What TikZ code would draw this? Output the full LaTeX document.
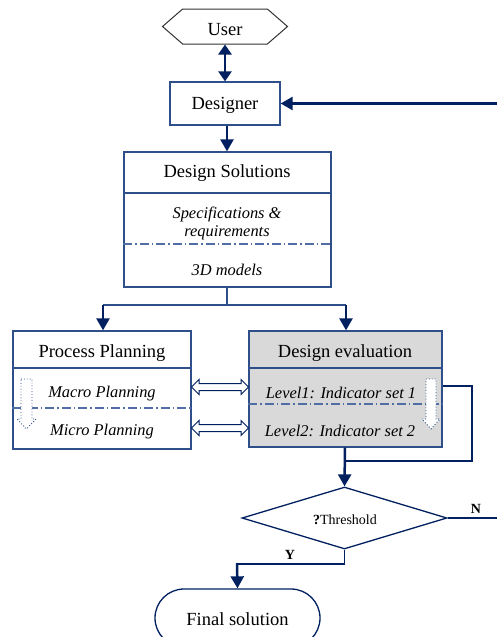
\documentclass[tikz,border=0pt]{standalone}
\usepackage{fontspec}
\setmainfont{Liberation Serif}
\usetikzlibrary{shapes.geometric,shapes.symbols,shapes.misc,shapes.arrows,arrows.meta,calc}
\definecolor{navy}{RGB}{0,32,96}
\definecolor{boxblue}{RGB}{47,79,139}
\definecolor{dashblue}{RGB}{80,110,165}
\definecolor{evalgray}{RGB}{217,217,217}
\begin{document}
\begin{tikzpicture}[x=1pt,y=-1pt,
  box/.style={draw=boxblue,line width=1.3pt,rectangle,inner sep=0pt},
  head/.style={font=\fontsize{18.5}{22}\selectfont,inner sep=0pt},
  itxt/.style={font=\fontsize{16.4}{19}\selectfont\itshape,inner sep=0pt},
  small/.style={font=\fontsize{14}{16}\selectfont,inner sep=0pt},
  thickarr/.style={draw=navy,line width=2.5pt,-{Triangle[width=13pt,length=12pt]}},
  thinline/.style={draw=boxblue,line width=1.4pt},
  divline/.style={draw=boxblue,line width=1.3pt},
  dashdotline/.style={draw=dashblue,line width=1.3pt,dash pattern=on 9pt off 3pt on 1.5pt off 3pt},
  hollowdot/.style={draw=boxblue,line width=0.9pt,dotted,fill=white},
  dblarr/.style={shape=double arrow,draw=navy,line width=1pt,fill=white,inner sep=3pt,
     double arrow head extend=4pt,minimum height=57pt}
]
\useasboundingbox (0,0) rectangle (497,637);

% User
\node (user) [signal,signal to=east and west,signal pointer angle=82,draw=black!80,line width=1pt,
  minimum width=125pt,minimum height=35pt,inner sep=0pt] at (225,26.5) {};
\node (usert) [head] at (225,29.5) {User};

% Designer
\node (des) [box,minimum width=110pt,minimum height=43pt] at (225,103.5) {};
\node (dest) [head] at (225,105.5) {Designer};

% Design Solutions
\node (ds) [box,minimum width=207pt,minimum height=135pt] at (227.5,219.5) {};
\draw[divline] (ds.west |- 0,193) -- (ds.east |- 0,193);
\draw[dashdotline] (ds.west |- 0,244) -- (ds.east |- 0,244);
\node (dst) [head] at (227,173.5) {Design Solutions};
\node (ds1) [itxt] at (227,214.5) {Specifications \&};
\node (ds2) [itxt] at (227,232.5) {requirements};
\node (ds3) [itxt] at (227,269.5) {3D models};

% Process Planning
\node (pp) [box,minimum width=178pt,minimum height=118pt] at (102,390) {};
\draw[divline] (pp.west |- 0,368) -- (pp.east |- 0,368);
\draw[dashdotline] (pp.west |- 0,408) -- (pp.east |- 0,408);
\node (ppt) [head] at (102,353.5) {Process Planning};
\node (pp1) [itxt] at (102,393.5) {Macro Planning};
\node (pp2) [itxt] at (102,431.5) {Micro Planning};
\draw[hollowdot] (21,379) -- (32,379) -- (32,419) -- (36,419) -- (26.5,429) -- (17,419) -- (21,419) -- cycle;

% Design evaluation
\node (de) [box,fill=evalgray,minimum width=193pt,minimum height=116pt] at (345.5,389) {};
\draw[divline] (de.west |- 0,368) -- (de.east |- 0,368);
\draw[dashdotline] (de.west |- 0,404) -- (de.east |- 0,404);
\node (det) [head] at (345,353.5) {Design evaluation};
\node (de1) [itxt] at (341,392.5) {Level1: Indicator set 1};
\node (de2) [itxt] at (340,430.5) {Level2: Indicator set 2};
\draw[hollowdot] (426,379) -- (436,379) -- (436,419) -- (440,419) -- (431,429) -- (422,419) -- (426,419) -- cycle;

% Decision
\node (dec) [diamond,draw=navy,line width=1.3pt,minimum width=205pt,minimum height=62pt,inner sep=0pt] at (344.5,518) {};
\node (dect) [small] at (345,519.5) {\textbf{?}Threshold};

% Final solution
\node (fin) [rounded rectangle,draw=navy,line width=1.3pt,minimum width=165pt,minimum height=58pt,inner sep=0pt] at (237.5,618) {};
\node (fint) [head] at (237.5,619) {Final solution};

% Labels
\node (nlab) [small,font=\fontsize{14}{16}\selectfont\bfseries] at (476,509) {N};
\node (ylab) [small,font=\fontsize{14}{16}\selectfont\bfseries] at (290,555) {Y};

% Coordinates
\coordinate (fbin) at (497,103.5);
\coordinate (nout) at (497,518);
\coordinate (split) at (227,305);
\coordinate (join) at (345,461);

% Connectors
\draw[draw=navy,line width=2.5pt,{Triangle[width=13pt,length=10pt]}-{Triangle[width=13pt,length=10pt]}] (user.south) -- (des.north);
\draw[thickarr] (fbin) -- (des.east);
\draw[thickarr] (des.south -| 227,0) -- (ds.north -| 227,0);
\draw[thinline] (ds.south -| split) -- (split);
\draw[thinline] (split -| 103,0) -- (split -| 346,0);
\draw[thickarr] (split -| 103,0) -- (pp.north -| 103,0);
\draw[thickarr] (split -| 346,0) -- (de.north -| 346,0);

\path (pp.east |- 0,387) -- node[dblarr] (da1) {} (de.west |- 0,387);
\path (pp.east |- 0,428) -- node[dblarr] (da2) {} (de.west |- 0,428);

\draw[thinline,draw=navy] (de.east |- 0,386) -- (472,386) -- (472,461) -- (join);
\draw[thickarr] (de.south -| join) -- (dec.north);
\draw[thinline,draw=navy] (dec.east) -- (nout);
\draw[thinline,draw=navy] (dec.south) -- (dec.south |- 0,564) -- (237,564);
\draw[thickarr] (237,563) -- (fin.north);
\end{tikzpicture}
\end{document}
